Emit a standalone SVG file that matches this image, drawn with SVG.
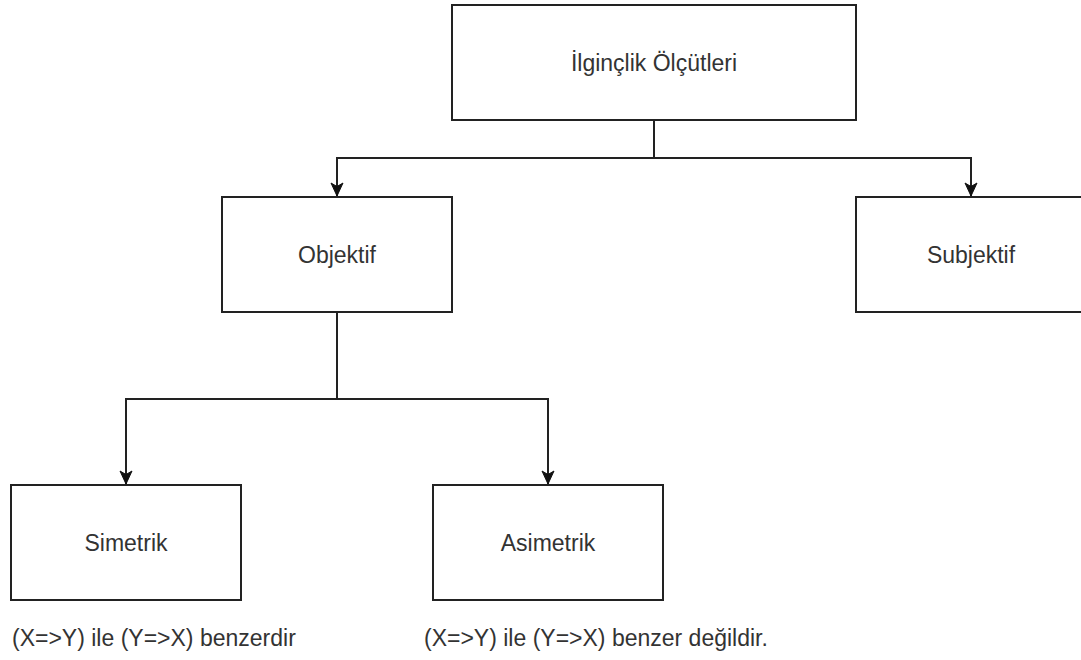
<svg xmlns="http://www.w3.org/2000/svg" width="1081" height="660" viewBox="0 0 1081 660">
  <style>
    .box { fill: #ffffff; stroke: #222222; stroke-width: 2; }
    .edge { fill: none; stroke: #222222; stroke-width: 2; }
    .label { font-family: "Liberation Sans", Arial, sans-serif; font-size: 23px; fill: #333333; }
    .mid { text-anchor: middle; }
  </style>
  <defs>
    <marker id="arrow" markerUnits="userSpaceOnUse" markerWidth="14" markerHeight="14" refX="13" refY="6" orient="auto" overflow="visible">
      <path d="M0,0 L13,6 L0,12 L3.5,6 Z" fill="#111111" stroke="#111111" stroke-width="1" stroke-linejoin="miter"/>
    </marker>
  </defs>

  <rect width="1081" height="660" fill="#ffffff"/>

  <!-- connectors -->
  <g id="connectors">
    <path class="edge" d="M654,120 V158 H337 V196" marker-end="url(#arrow)"/>
    <path class="edge" d="M654,158 H971 V196" marker-end="url(#arrow)"/>
    <path class="edge" d="M337,312 V399 H126 V484" marker-end="url(#arrow)"/>
    <path class="edge" d="M337,399 H548 V484" marker-end="url(#arrow)"/>
  </g>

  <!-- nodes -->
  <g id="olcutler">
    <rect class="box" x="452" y="5" width="404" height="115"/>
    <text class="label mid" x="654" y="71">İlginçlik Ölçütleri</text>
  </g>
  <g id="objektif">
    <rect class="box" x="222" y="197" width="230" height="115"/>
    <text class="label mid" x="337" y="263">Objektif</text>
  </g>
  <g id="subjektif">
    <rect class="box" x="856" y="197" width="230" height="115"/>
    <text class="label mid" x="971" y="263">Subjektif</text>
  </g>
  <g id="simetrik">
    <rect class="box" x="11" y="485" width="230" height="115"/>
    <text class="label mid" x="126" y="551">Simetrik</text>
  </g>
  <g id="asimetrik">
    <rect class="box" x="433" y="485" width="230" height="115"/>
    <text class="label mid" x="548" y="551">Asimetrik</text>
  </g>

  <!-- notes under the lower nodes -->
  <g id="simetrik-note">
    <text class="label" x="12" y="646">(X=&gt;Y) ile (Y=&gt;X) benzerdir</text>
  </g>
  <g id="asimetrik-note">
    <text class="label" x="424" y="646">(X=&gt;Y) ile (Y=&gt;X) benzer değildir.</text>
  </g>
</svg>
